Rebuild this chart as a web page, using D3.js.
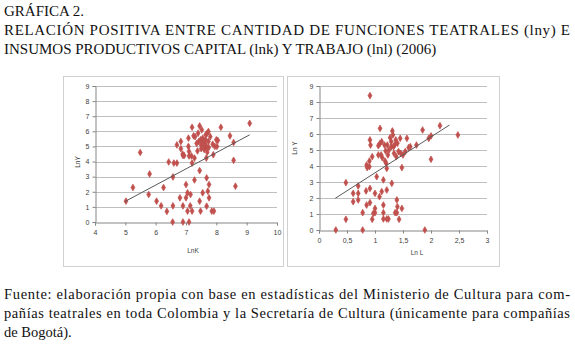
<!DOCTYPE html>
<html><head><meta charset="utf-8">
<script src="https://cdn.jsdelivr.net/npm/d3@7"></script>
<style>body{margin:0;background:#fff}svg{display:block}</style>
</head><body>
<svg id="c" width="575" height="350"></svg>
<script>
// ---- Data ----
const titleLines = ["GRÁFICA 2.",
  "RELACIÓN POSITIVA ENTRE CANTIDAD DE FUNCIONES TEATRALES (lny) E",
  "INSUMOS PRODUCTIVOS CAPITAL (lnk) Y TRABAJO (lnl) (2006)"];
const footLines = ["Fuente: elaboración propia con base en estadísticas del Ministerio de Cultura para com-",
  "pañías teatrales en toda Colombia y la Secretaría de Cultura (únicamente para compañías",
  "de Bogotá)."];

// Left panel: LnK vs LnY
const lnK  = [5.02,5.25,5.49,5.8,5.77,6.03,6.18,6.26,6.37,6.43,6.57,6.57,6.56,6.6,6.7,6.7,6.8,6.83,6.83,6.89,6.9,6.9,6.9,6.94,7.0,7.0,7.05,7.05,7.08,7.08,7.1,7.1,7.1,7.15,7.14,7.18,7.2,7.2,7.2,7.25,7.28,7.28,7.3,7.35,7.38,7.4,7.42,7.45,7.45,7.45,7.48,7.48,7.5,7.52,7.55,7.55,7.58,7.6,7.6,7.62,7.65,7.65,7.67,7.68,7.7,7.7,7.68,7.68,7.72,7.74,7.74,7.75,7.76,7.76,7.8,7.85,7.88,7.9,7.92,7.95,8.0,8.02,8.15,8.05,8.45,8.57,8.57,8.63,9.1,7.55,7.62,7.5,7.58,7.66];
const lnYk = [1.38,2.28,4.6,3.18,1.82,1.38,1.07,2.28,0.7,3.97,2.98,1.07,0,3.9,3.9,5.1,1.6,5.33,4.85,4.5,4.4,1.07,0,4.4,2.48,1.6,1.93,0.72,5.55,5.0,4.67,4.37,0,1.82,1.07,4.37,6.27,0.72,3.9,5.7,4.23,2.78,5.65,5.2,4.7,5.88,5.33,1.38,3.4,6.36,0.72,5.44,5.1,6.1,1.93,5.55,5.0,5.33,4.8,5.15,5.44,5.77,4.23,4.93,5.88,4.62,2.92,1.05,2.04,5.99,5.33,4.93,2.48,1.6,5.65,0.72,5.15,4.45,0.72,5.0,5.44,5.0,6.27,5.4,5.7,4.08,5.26,2.37,6.53,5.25,4.9,4.85,5.4,5.05];
const trendK = [5.0, 9.1];
const trendKY = [1.37, 5.77];

// Right panel: LnL vs LnY
const lnL  = [0.30,0.48,0.48,0.61,0.61,0.70,0.70,0.70,0.78,0.78,0.84,0.85,0.85,0.86,0.9,0.9,0.91,0.92,0.91,0.91,0.91,0.95,0.95,0.97,1.0,1.0,1.0,1.03,1.06,1.06,1.08,1.09,1.09,1.11,1.12,1.12,1.13,1.15,1.15,1.15,1.15,1.17,1.18,1.19,1.2,1.21,1.21,1.21,1.22,1.23,1.24,1.25,1.27,1.29,1.29,1.3,1.31,1.32,1.33,1.34,1.35,1.36,1.37,1.38,1.39,1.39,1.4,1.4,1.42,1.43,1.45,1.46,1.48,1.48,1.5,1.54,1.57,1.6,1.63,1.74,1.85,1.89,1.96,2.0,2.0,2.16,2.48];
const lnYl = [0,0.67,2.96,2.29,1.77,2.75,2.29,1.88,1.08,0,2.44,1.56,4.06,3.9,4.31,3.96,5.63,5.31,8.4,2.6,1.71,0.67,4.58,1.04,1.35,1.08,2.29,3.33,4.69,5.27,2.08,6.35,5.42,4.69,2.4,5.52,4.52,1.08,1.56,3.13,0.69,5.31,4.31,4.94,4.17,3.85,0.69,2.5,5.31,4.69,0.69,5.0,5.77,5.21,5.52,2.92,6.19,5.94,5.21,4.79,5.31,1.08,5.63,4.58,1.88,1.08,1.46,5.42,4.9,0.67,5.73,4.79,1.35,3.9,4.69,4.9,5.73,5.15,5.21,5.31,6.25,0,5.73,5.88,4.42,6.52,5.94];
const trendL = [0.29, 2.33];
const trendLY = [1.98, 6.56];

const yTicks = [0,1,2,3,4,5,6,7,8,9];
const kTicks = [4,5,6,7,8,9,10];
const lTicks = [0,0.5,1,1.5,2,2.5,3];
const lTickLabels = ["0","0,5","1","1,5","2","2,5","3"];

// ---- Drawing ----
const svg = d3.select("#c");
const serif = "'Liberation Serif','Times New Roman',serif";
const sans = "'Liberation Sans',Arial,sans-serif";
const red = "#c0504d";

// title
const tY = [15.5, 35, 53.5];
titleLines.forEach((t,i)=>{
  const el = svg.append("text").attr("x",4).attr("y",tY[i]).attr("font-family",serif)
    .attr("font-size",15).attr("fill","#111").text(t);
  if(i===1) el.attr("textLength",566).attr("lengthAdjust","spacing");
});
// footer
const fY = [298.5, 318, 337];
footLines.forEach((t,i)=>{
  const el = svg.append("text").attr("x",4).attr("y",fY[i]).attr("font-family",serif)
    .attr("font-size",14.5).attr("fill","#111").text(t);
  if(i<2) el.attr("textLength",566).attr("lengthAdjust","spacing");
});

function panel(o){
  const g = svg.append("g");
  g.append("rect").attr("x",o.box[0]).attr("y",o.box[1]).attr("width",o.box[2]).attr("height",o.box[3])
    .attr("fill","#fff").attr("stroke","#d0d0d0").attr("stroke-width",1);
  const x = d3.scaleLinear().domain(o.xd).range(o.xr);
  const y = d3.scaleLinear().domain([0,9]).range(o.yr);
  // grid
  g.selectAll(".gl").data(yTicks.filter(d=>d>0)).join("line")
    .attr("x1",x(o.xd[0])).attr("x2",x(o.xd[1]))
    .attr("y1",d=>Math.round(y(d))+0.5).attr("y2",d=>Math.round(y(d))+0.5)
    .attr("stroke","#bfbfbf").attr("stroke-width",1);
  // y axis
  const ya = d3.axisLeft(y).tickValues(yTicks).tickSize(3).tickPadding(3).tickFormat(d3.format("d"));
  const yg = g.append("g").attr("transform",`translate(${Math.round(x(o.xd[0]))+0.5},0)`).call(ya);
  // x axis
  const xa = d3.axisBottom(x).tickValues(o.ticks).tickSize(3).tickPadding(5).tickFormat((d,i)=>o.tickLabels[i]);
  const xg = g.append("g").attr("transform",`translate(0,${Math.round(y(0))+0.5})`).call(xa);
  [yg,xg].forEach(a=>{
    a.select(".domain").attr("stroke","#868686");
    a.selectAll(".tick line").attr("stroke","#868686");
    a.selectAll("text").attr("font-family",sans).attr("font-size",7).attr("fill","#404040");
  });
  // axis titles
  g.append("text").attr("x",o.xl[0]).attr("y",o.xl[1]).attr("text-anchor","middle")
    .attr("font-family",sans).attr("font-size",6.5).attr("fill","#404040").text(o.xlab);
  g.append("text").attr("transform",`translate(${o.yl[0]},${o.yl[1]}) rotate(-90)`).attr("text-anchor","middle")
    .attr("font-family",sans).attr("font-size",6.5).attr("fill","#404040").text(o.ylab);
  // points
  const sym = d3.symbol().type(d3.symbolDiamond).size(13);
  g.selectAll(".pt").data(o.xs.map((v,i)=>[v,o.ys[i]])).join("path")
    .attr("d",sym).attr("transform",d=>`translate(${x(d[0])},${y(d[1])})`)
    .attr("fill",red).attr("stroke",red).attr("stroke-width",0.7);
  // trend line
  g.append("line").attr("x1",x(o.tx[0])).attr("y1",y(o.ty[0])).attr("x2",x(o.tx[1])).attr("y2",y(o.ty[1]))
    .attr("stroke","#595959").attr("stroke-width",1);
}

panel({box:[63.5,76.5,220,190], xd:[4,10], xr:[95,277], yr:[222,86], ticks:kTicks, tickLabels:kTicks.map(String),
  xs:lnK, ys:lnYk, tx:trendK, ty:trendKY, xlab:"LnK", ylab:"LnY", xl:[193,253], yl:[80,162]});
panel({box:[287.5,76.5,212,190], xd:[0,3], xr:[319,487], yr:[230,86], ticks:lTicks, tickLabels:lTickLabels,
  xs:lnL, ys:lnYl, tx:trendL, ty:trendLY, xlab:"Ln L", ylab:"Ln Y", xl:[417,255], yl:[297,148]});
</script>
</body></html>
